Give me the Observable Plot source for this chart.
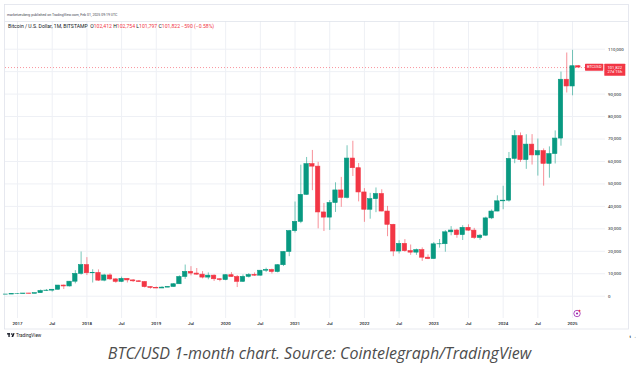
<!DOCTYPE html>
<html><head><meta charset="utf-8">
<script src="https://cdn.jsdelivr.net/npm/d3@7"></script>
<script src="https://cdn.jsdelivr.net/npm/@observablehq/plot@0.6"></script>
<style>
body{margin:0;background:#fff;}
#wrap{position:relative;width:639px;height:373px;overflow:hidden;}
#chart{position:absolute;left:0;top:0;}
#caption{position:absolute;left:0;top:343px;width:639px;text-align:center;font:italic 16px "Open Sans",sans-serif;color:#4d4d4d;line-height:20px;}
</style></head><body>
<div id="wrap"><div id="chart"></div><div id="caption">BTC/USD 1-month chart. Source: Cointelegraph/TradingView</div></div>
<script>
const months = [
"2016-11","2016-12",
"2017-01","2017-02","2017-03","2017-04","2017-05","2017-06","2017-07","2017-08","2017-09","2017-10","2017-11","2017-12",
"2018-01","2018-02","2018-03","2018-04","2018-05","2018-06","2018-07","2018-08","2018-09","2018-10","2018-11","2018-12",
"2019-01","2019-02","2019-03","2019-04","2019-05","2019-06","2019-07","2019-08","2019-09","2019-10","2019-11","2019-12",
"2020-01","2020-02","2020-03","2020-04","2020-05","2020-06","2020-07","2020-08","2020-09","2020-10","2020-11","2020-12",
"2021-01","2021-02","2021-03","2021-04","2021-05","2021-06","2021-07","2021-08","2021-09","2021-10","2021-11","2021-12",
"2022-01","2022-02","2022-03","2022-04","2022-05","2022-06","2022-07","2022-08","2022-09","2022-10","2022-11","2022-12",
"2023-01","2023-02","2023-03","2023-04","2023-05","2023-06","2023-07","2023-08","2023-09","2023-10","2023-11","2023-12",
"2024-01","2024-02","2024-03","2024-04","2024-05","2024-06","2024-07","2024-08","2024-09","2024-10","2024-11","2024-12",
"2025-01","2025-02"];
const opens = [700,742,
964,970,1190,1080,1350,2300,2480,2870,4740,4340,6460,9950,
13850,10220,10330,6930,9240,7490,6390,7730,7030,6630,6300,4040,
3690,3440,3820,4100,5320,8560,10820,10080,9600,8290,9150,7540,
7190,9350,8540,6410,8620,9450,9140,11350,11650,10780,13800,19700,
28990,33110,45140,58790,57700,37300,35000,41500,47100,43800,61300,57000,
46200,38500,43200,45500,37700,31800,19900,23300,20050,19400,20500,17150,
16550,23100,23150,28450,29250,27200,30450,29200,25950,26950,34650,37700,
42250,42550,61150,71300,60650,67500,62700,64600,58950,63300,70200,96400,
93400,102412];
const highs = [755,980,
1150,1200,1290,1350,2760,2990,2900,4750,4980,6470,11400,19670,
17170,11790,11700,9750,9990,7770,8500,7770,7400,7000,6550,4250,
4110,4210,4130,5620,9070,13880,13150,12330,10950,10370,9510,7750,
9570,10500,9180,9460,10070,10380,11430,12470,12060,14100,19860,29300,
41950,58350,61780,64900,59600,41300,42600,50500,52900,67000,69000,59100,
47900,45800,48200,47400,40000,32000,24700,25200,22800,21000,21500,18400,
23900,25250,29200,31000,29800,31400,31800,30200,27500,35200,38400,44700,
48950,64000,73750,72700,71900,71950,70000,65600,66500,73600,99800,108300,
109500,102754];
const lows = [685,741,
752,915,890,1060,1350,2080,1840,2680,2970,4110,5500,9380,
9200,5880,6600,6430,7030,5750,6070,5880,6100,6200,3650,3150,
3350,3390,3800,4080,5320,7500,9070,9330,7710,7300,6550,6410,
6860,8450,3860,6150,8100,8830,8980,10530,9880,10380,13210,17600,
28130,32300,44950,47000,30000,28800,29300,37300,39600,43300,53300,42000,
32900,34300,37200,37600,26500,17600,18800,19600,18200,18200,15500,16300,
16500,21400,19600,26900,25800,24800,28900,25300,24900,26550,34100,37600,
38500,41900,59000,59600,56500,58400,53500,49000,52550,58900,66800,90500,
89250,101797];
const closes = [742,964,
970,1190,1080,1350,2300,2480,2870,4740,4340,6460,9950,13850,
10220,10330,6930,9240,7490,6390,7730,7030,6630,6300,4040,3690,
3440,3820,4100,5320,8560,10820,10080,9600,8290,9150,7540,7190,
9350,8540,6410,8620,9450,9140,11350,11650,10780,13800,19700,28990,
33110,45140,58790,57700,37300,35000,41500,47100,43800,61300,57000,46200,
38500,43200,45500,37700,31800,19900,23300,20050,19400,20500,17150,16550,
23100,23150,28450,29250,27200,30450,29200,25950,26950,34650,37700,42250,
42550,61150,71300,60650,67500,62700,64600,58950,63300,70200,96400,93400,
102412,101822];

const tickMonths = ["2017-01","2017-07","2018-01","2018-07","2019-01","2019-07","2020-01","2020-07","2021-01","2021-07","2022-01","2022-07","2023-01","2023-07","2024-01","2024-07","2025-01"];
const tickLabels = ["2017","Jul","2018","Jul","2019","Jul","2020","Jul","2021","Jul","2022","Jul","2023","Jul","2024","Jul","2025"];
const yTicks = [0,10000,20000,30000,40000,50000,60000,70000,80000,90000,100000,110000];

const headerText = "marketzeuberg published on TradingView.com, Feb 01, 2025 09:19 UTC";
const symbolText = "Bitcoin / U.S. Dollar, 1M, BITSTAMP";
const ohlcLabels = ["O","H","L","C"];
const ohlcValues = ["102,412","102,754","101,797","101,822"];
const changeText = "\u2212590 (\u22120.58%)";
const countdownText = "27d 15h";
const tickerText = "BTCUSD";

const UP = "#089981", DOWN = "#F23645";
const monthIndex = s => { const [y, m] = s.split("-").map(Number); return (y - 2017) * 12 + (m - 1); };
const candles = months.map((m, i) => ({t: monthIndex(m), o: opens[i], h: highs[i], l: lows[i], c: closes[i]}));
const col = d => d.c >= d.o ? UP : DOWN;
const tickPos = tickMonths.map(monthIndex);
const labelAt = new Map(tickPos.map((t, i) => [t, tickLabels[i]]));
const last = candles[candles.length - 1];

const plot = Plot.plot({
  width: 639, height: 340,
  marginTop: 21, marginBottom: 22, marginLeft: 5, marginRight: 34,
  style: {fontFamily: "Roboto, sans-serif", fontSize: "4.4px", color: "#131722", background: "transparent", overflow: "visible"},
  x: {type: "linear", domain: [-2.08, 101.7], axis: null},
  y: {type: "linear", domain: [-9931, 122333], axis: null},
  color: {type: "identity"},
  marks: [
    Plot.gridY(yTicks, {stroke: "#eef0f5", strokeOpacity: 1}),
    Plot.gridX(tickPos, {stroke: "#eef0f5", strokeOpacity: 1}),
    Plot.ruleY([last.c], {x1: -2.08, x2: 98.8, stroke: DOWN, strokeOpacity: 0.75, strokeDasharray: "1,2", strokeWidth: 0.7}),
    Plot.ruleX(candles, {x: "t", y1: "l", y2: "h", stroke: col, strokeOpacity: 0.55, strokeWidth: 1}),
    Plot.rect(candles, {x1: d => d.t - 0.38, x2: d => d.t + 0.38, y1: d => Math.min(d.o, d.c), y2: d => Math.max(d.o, d.c), fill: col, stroke: col, strokeWidth: 0.6}),
    Plot.axisY(yTicks, {anchor: "right", tickSize: 0, tickPadding: 2.5, tickFormat: d3.format(","), fill: "#131722"}),
    Plot.axisX(tickPos, {anchor: "bottom", tickSize: 0, tickPadding: 3.5, tickFormat: t => labelAt.get(t), fill: "#131722", fontWeight: 500})
  ]
});
document.getElementById("chart").appendChild(plot);

const svg = d3.select(plot);
const ys = plot.scale("y");
const yPrice = ys.apply(last.c);

// card border and pane top line
svg.insert("rect", ":first-child").attr("x", 4.5).attr("y", 4.5).attr("width", 624).attr("height", 324.5)
  .attr("fill", "none").attr("stroke", "#e0e3eb").attr("stroke-width", 0.8);
svg.append("line").attr("x1", 5).attr("x2", 628.5).attr("y1", 21.5).attr("y2", 21.5).attr("stroke", "#e0e3eb").attr("stroke-width", 0.8);

// header
svg.append("text").attr("x", 7).attr("y", 16.3).attr("font-size", 3.5).attr("fill", "#434651").attr("text-anchor", "start")
  .attr("font-family", "Roboto, sans-serif").text(headerText);

// legend
const lg = svg.append("text").attr("x", 8).attr("y", 28.4).attr("font-size", 5.1).attr("fill", "#131722").attr("text-anchor", "start")
  .attr("font-family", "Roboto, sans-serif");
lg.append("tspan").text(symbolText + "  ");
ohlcLabels.forEach((l, i) => {
  lg.append("tspan").attr("fill", "#131722").text(l);
  lg.append("tspan").attr("fill", DOWN).text(ohlcValues[i] + " ");
});
lg.append("tspan").attr("fill", DOWN).text(changeText);

// ticker and price labels
svg.append("rect").attr("x", 585).attr("y", yPrice - 3.4).attr("width", 18.3).attr("height", 7).attr("fill", DOWN).attr("rx", 0.6);
svg.append("text").attr("x", 594.2).attr("y", yPrice + 1.4).attr("text-anchor", "middle").attr("font-size", 3.9)
  .attr("fill", "#fff").attr("font-family", "Roboto, sans-serif").text(tickerText);
svg.append("rect").attr("x", 604.3).attr("y", yPrice - 3.4).attr("width", 21).attr("height", 12.2).attr("fill", DOWN).attr("rx", 0.6);
svg.append("text").attr("x", 614.8).attr("y", yPrice + 1.5).attr("text-anchor", "middle").attr("font-size", 4.1)
  .attr("fill", "#fff").attr("font-family", "Roboto, sans-serif").text(d3.format(",")(last.c));
svg.append("text").attr("x", 614.8).attr("y", yPrice + 6.4).attr("text-anchor", "middle").attr("font-size", 4.1)
  .attr("fill", "#fff").attr("font-family", "Roboto, sans-serif").text(countdownText);

// events icon near 2025
const xs = plot.scale("x");
const ex = xs.apply(monthIndex("2025-01")) + 5;
svg.append("circle").attr("cx", ex).attr("cy", 313.5).attr("r", 3.2).attr("fill", "#fff").attr("stroke", "#9c27b0").attr("stroke-width", 0.8);
svg.append("circle").attr("cx", ex).attr("cy", 313.5).attr("r", 1.1).attr("fill", "#9c27b0");
svg.append("circle").attr("cx", ex + 2.4).attr("cy", 310.8).attr("r", 1).attr("fill", DOWN);

// TradingView logo
const logo = svg.append("g").attr("fill", "#131722");
logo.append("rect").attr("x", 7).attr("y", 333.2).attr("width", 3).attr("height", 1.3);
logo.append("rect").attr("x", 8.4).attr("y", 333.2).attr("width", 1.3).attr("height", 3.8);
logo.append("circle").attr("cx", 11.6).attr("cy", 334).attr("r", 0.8);
logo.append("path").attr("d", "M12.8,333.2 L14.6,333.2 L13.2,337 L11.5,337 Z");
svg.append("text").attr("x", 16).attr("y", 336.8).attr("font-size", 4.6).attr("fill", "#131722").attr("text-anchor", "start")
  .attr("font-family", "Roboto, sans-serif").text("TradingView");
</script>
</body></html>
